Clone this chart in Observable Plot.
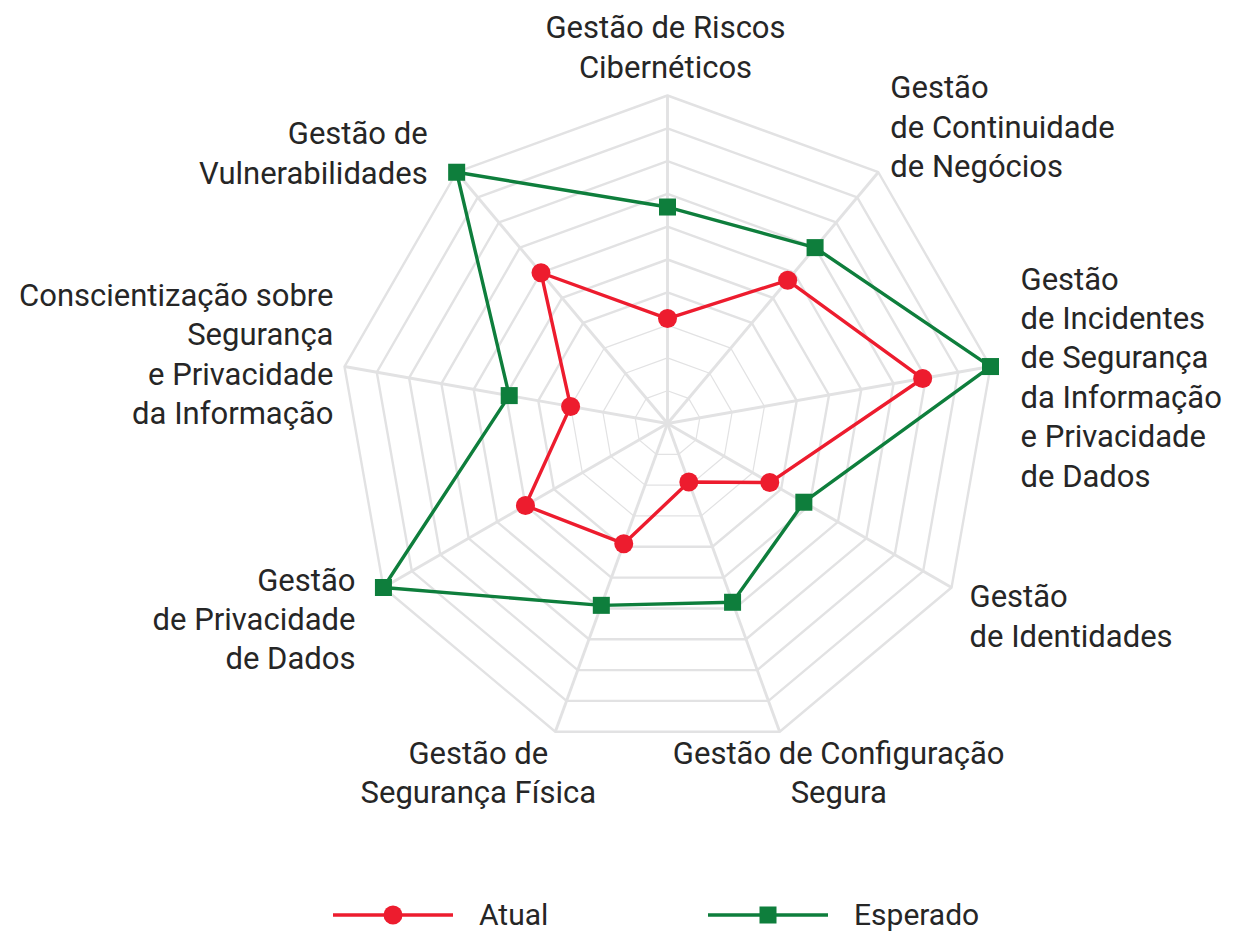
<!DOCTYPE html>
<html>
<head>
<meta charset="utf-8">
<script src="https://cdn.jsdelivr.net/npm/d3@7"></script>
<script src="https://cdn.jsdelivr.net/npm/@observablehq/plot@0.6"></script>
<style>
  body { margin: 0; background: #ffffff; font-family: Roboto, sans-serif; overflow: hidden; }
  #chart { width: 1233px; height: 880px; }
  #chart svg { display: block; }
  .legend { position: relative; width: 1233px; height: 54px; }
  .legend .item { position: absolute; top: 17px; height: 36px; display: flex; align-items: center; font-size: 30px; line-height: 36px; color: #262626; }
  .legend svg { margin-right: 26px; overflow: visible; }
</style>
</head>
<body>
<div id="chart"></div>
<div class="legend" id="legend"></div>
<script>
// ---- data ----
const categories = [
  "Gestão de Riscos\nCibernéticos",
  "Gestão\nde Continuidade\nde Negócios",
  "Gestão\nde Incidentes\nde Segurança\nda Informação\ne Privacidade\nde Dados",
  "Gestão\nde Identidades",
  "Gestão de Configuração\nSegura",
  "Gestão de\nSegurança Física",
  "Gestão\nde Privacidade\nde Dados",
  "Conscientização sobre\nSegurança\ne Privacidade\nda Informação",
  "Gestão de\nVulnerabilidades"
];
const atual    = [32, 57, 79, 36, 19, 39, 50, 30, 60];
const esperado = [66, 70, 100, 48, 58, 59, 100, 49, 100];
const gridLevels = [10, 20, 30, 40, 50, 60, 70, 80, 90, 100];
const seriesNames = ["Atual", "Esperado"];

// ---- styles / layout ----
const colors = { Atual: "#ED1C2E", Esperado: "#0E7E3C" };
const gridColor = "#e2e2e3";
const maxValue = 100;
// label placement relative to each axis end (pixels)
const labelLayout = [
  { anchor: "middle", dx: -2,  dy: -50 },
  { anchor: "start",  dx: 12,  dy: -47 },
  { anchor: "start",  dx: 30,  dy: 9 },
  { anchor: "start",  dx: 18,  dy: 27 },
  { anchor: "middle", dx: 59,  dy: 39 },
  { anchor: "middle", dx: -77, dy: 39 },
  { anchor: "end",    dx: -28, dy: 30 },
  { anchor: "end",    dx: -11, dy: -14 },
  { anchor: "end",    dx: -29, dy: -21 }
];

const n = categories.length;
const ang = i => i * 2 * Math.PI / n;
const px = (i, v) => v * Math.sin(ang(i));
const py = (i, v) => v * Math.cos(ang(i));

const rings = gridLevels.flatMap(L => categories.map((c, i) => ({ L, x: px(i, L), y: py(i, L) })));
const spokes = categories.map((c, i) => ({ x: px(i, maxValue), y: py(i, maxValue) }));
const rows = [
  ...atual.map((v, i) => ({ s: "Atual", x: px(i, v), y: py(i, v) })),
  ...esperado.map((v, i) => ({ s: "Esperado", x: px(i, v), y: py(i, v) }))
];

const labelMarks = categories.map((c, i) => Plot.text([c], {
  x: () => px(i, maxValue), y: () => py(i, maxValue),
  text: d => d,
  textAnchor: labelLayout[i].anchor,
  lineAnchor: "middle",
  dx: labelLayout[i].dx, dy: labelLayout[i].dy,
  fontSize: 31, lineHeight: 1.27, fill: "#262626"
}));

const chart = Plot.plot({
  width: 1233,
  height: 880,
  margin: 0,
  style: { fontFamily: "Roboto, sans-serif", background: "#ffffff" },
  x: { domain: [-maxValue, maxValue], range: [339, 995], axis: null },
  y: { domain: [-maxValue, maxValue], range: [751, 95], axis: null },
  marks: [
    Plot.line(rings.filter(d => d.L <= 30), { x: "x", y: "y", z: "L", curve: "linear-closed", stroke: gridColor, strokeWidth: 1.2 }),
    Plot.line(rings.filter(d => d.L > 30), { x: "x", y: "y", z: "L", curve: "linear-closed", stroke: gridColor, strokeWidth: 2.4 }),
    Plot.link(spokes, { x1: 0, y1: 0, x2: "x", y2: "y", stroke: gridColor, strokeWidth: 2.9 }),
    Plot.line(rows, { x: "x", y: "y", z: "s", curve: "linear-closed", stroke: d => colors[d.s], strokeWidth: 3.4 }),
    Plot.dot(rows.filter(d => d.s === "Atual"), { x: "x", y: "y", r: 9.5, fill: colors.Atual, symbol: "circle" }),
    Plot.dot(rows.filter(d => d.s === "Esperado"), { x: "x", y: "y", r: 9.6, fill: colors.Esperado, symbol: "square" }),
    ...labelMarks
  ]
});
document.getElementById("chart").appendChild(chart);

// ---- legend ----
const legend = document.getElementById("legend");
const legendLeft = { Atual: 333, Esperado: 708 };
seriesNames.forEach(name => {
  const item = document.createElement("div");
  item.className = "item";
  item.style.left = legendLeft[name] + "px";
  const marker = name === "Atual"
    ? `<circle cx="60" cy="18" r="9.5" fill="${colors[name]}"/>`
    : `<rect x="51.5" y="9.5" width="17" height="17" fill="${colors[name]}"/>`;
  item.innerHTML = `<svg width="120" height="36"><line x1="0" x2="120" y1="18" y2="18" stroke="${colors[name]}" stroke-width="3.4"/>${marker}</svg><span>${name}</span>`;
  legend.appendChild(item);
});
</script>
</body>
</html>
